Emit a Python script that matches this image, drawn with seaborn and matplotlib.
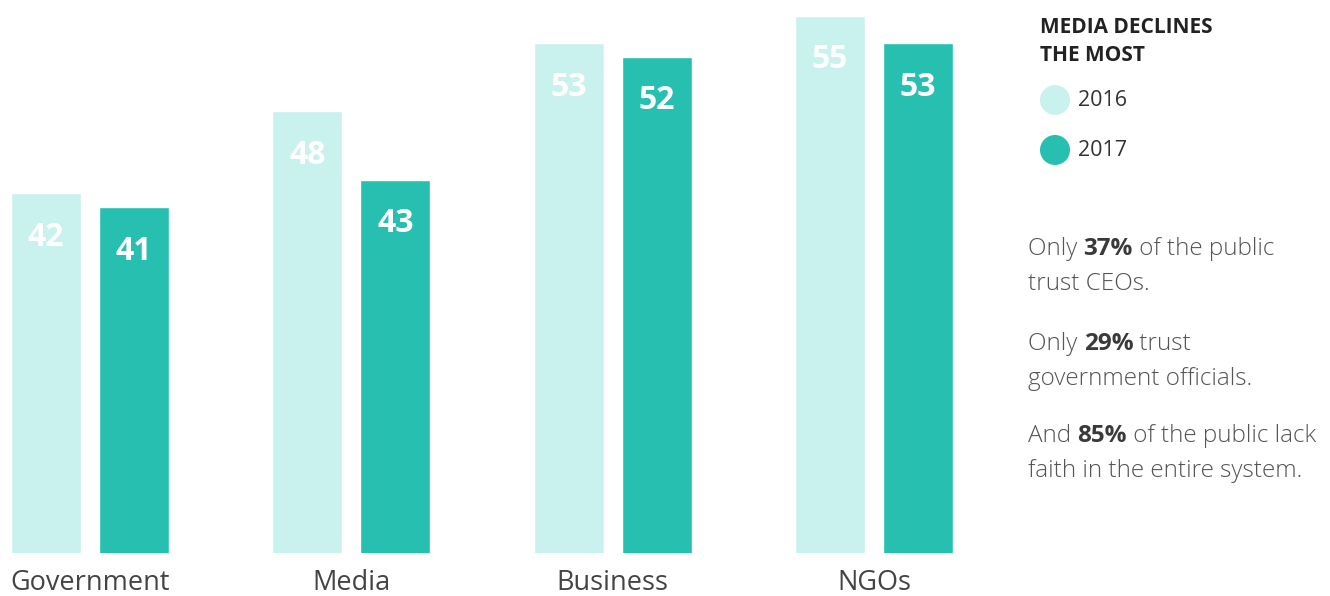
import matplotlib
matplotlib.use("Agg")
import matplotlib.pyplot as plt
import seaborn as sns
import pandas as pd
from matplotlib.patches import Ellipse

categories = ["Government", "Media", "Business", "NGOs"]
years = ["2016", "2017"]
values_2016 = [42, 48, 53, 55]
values_2017 = [41, 43, 52, 53]
legend_title = "MEDIA DECLINES\nTHE MOST"
notes = [
    [("Only ", False), ("37%", True), (" of the public", False), ("\n", None), ("trust CEOs.", False)],
    [("Only ", False), ("29%", True), (" trust", False), ("\n", None), ("government officials.", False)],
    [("And ", False), ("85%", True), (" of the public lack", False), ("\n", None), ("faith in the entire system.", False)],
]

light = "#c9f2ee"
dark = "#26bfb0"

df = pd.DataFrame({
    "category": categories * 2,
    "year": [years[0]] * 4 + [years[1]] * 4,
    "value": values_2016 + values_2017,
})

sns.set_theme(style="white")
plt.rcParams["font.family"] = ["Open Sans", "DejaVu Sans"]

W, H = 1330, 596
fig = plt.figure(figsize=(W / 100, H / 100), dpi=100)
ax = fig.add_axes([0, 43 / H, 1000 / W, 553 / H])

sns.barplot(data=df, x="category", y="value", hue="year", order=categories,
            hue_order=years, palette=[light, dark], width=0.674, gap=0.205,
            ax=ax, legend=False, saturation=1)

ax.set_xlim(-90 / 261.3, (1000 - 90) / 261.3)
ax.set_ylim(15.7, 15.7 + 553 / 13.67)
for s in ax.spines.values():
    s.set_visible(False)
ax.set_yticks([])
ax.set_xlabel("")
ax.set_ylabel("")
ax.tick_params(axis="x", length=0, pad=11.5, labelsize=19.5, labelcolor="#444444")

for cont in ax.containers:
    for bar in cont:
        h = bar.get_height()
        ax.annotate(f"{h:.0f}", (bar.get_x() + bar.get_width() / 2, h),
                    xytext=(0, -44 * 72 / 100), textcoords="offset points",
                    ha="center", va="center", color="white",
                    fontsize=23, fontweight="bold")

# legend
fig.text(1040 / W, 1 - 17 / H, legend_title, ha="left", va="top", fontsize=15,
         fontweight="bold", color="#222222", linespacing=1.45)
for i, (yr, col) in enumerate(zip(years, [light, dark])):
    yc = 100 + 50 * i
    fig.patches.append(Ellipse((1055 / W, 1 - yc / H), 30 / W, 30 / H,
                               transform=fig.transFigure, facecolor=col, edgecolor="none"))
    fig.text(1078 / W, 1 - yc / H, yr, ha="left", va="center", fontsize=15.5, color="#333333")

# notes with inline bold
fig.canvas.draw()
renderer = fig.canvas.get_renderer()
note_tops = [249, 344, 436]
line_gap = 35
for note, ytop in zip(notes, note_tops):
    x = 1028
    line = 0
    for txt, bold in note:
        if bold is None:
            line += 1
            x = 1028
            continue
        yc = ytop + line * line_gap
        t = fig.text(x / W, 1 - yc / H, txt, ha="left", va="center",
                     fontsize=17.5, color="#3a3a3a" if bold else "#555555",
                     fontweight="bold" if bold else "light")
        x += t.get_window_extent(renderer).width

fig.savefig("out.png", dpi=100)
